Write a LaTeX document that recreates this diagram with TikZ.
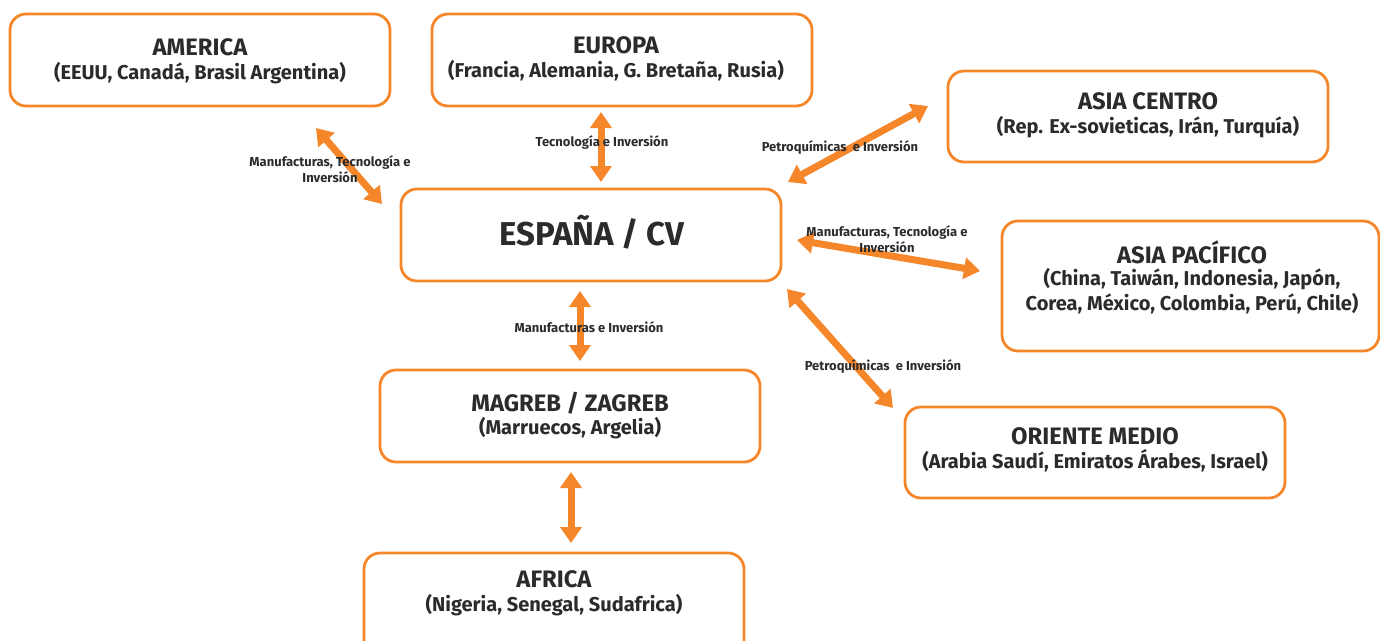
\documentclass[tikz,border=0pt]{standalone}
\usepackage{fontspec}
\setmainfont{Fira Sans}
\usetikzlibrary{arrows.meta}
\definecolor{org}{HTML}{F5862A}
\definecolor{txt}{HTML}{2B2B2B}
\tikzset{
  box/.style={draw=org, line width=2.8pt, rounded corners=16pt, fill=white},
  ttl/.style={text=txt, font=\bfseries\fontsize{23.8}{28}\selectfont, align=center, inner sep=0pt},
  sub/.style={text=txt, font=\bfseries\fontsize{20}{25}\selectfont, align=center, inner sep=0pt},
  lbl/.style={text=txt, font=\bfseries\fontsize{13}{16.5}\selectfont, align=center, inner sep=0pt},
  dbl/.style={draw=org, line width=7pt, {Triangle[length=16pt,width=21pt]}-{Triangle[length=16pt,width=21pt]}, shorten <=0pt, shorten >=0pt}
}
\begin{document}
\begin{tikzpicture}[x=1pt,y=-1pt]
\useasboundingbox (0,0) rectangle (1380,640);
% boxes
\draw[box] (10,14) rectangle (390,106);
\draw[box] (432,14) rectangle (812,106);
\draw[box] (948,71) rectangle (1328,162);
\draw[box] (401,189) rectangle (781,281);
\draw[box] (1002,221) rectangle (1379,351);
\draw[box] (380,370) rectangle (760,462);
\draw[box] (905,407) rectangle (1285,498);
\draw[box] (364,553) rectangle (744,660);
% texts
\node[ttl] (am) at (200,47) {AMERICA};
\node[sub] (ams) at (200,73) {(EEUU, Canadá, Brasil Argentina)};
\node[ttl] (eu) at (616,45) {EUROPA};
\node[sub] (eus) at (616,71) {(Francia, Alemania, G. Bretaña, Rusia)};
\node[ttl] (ac) at (1148,101) {ASIA CENTRO};
\node[sub] (acs) at (1148,127) {(Rep. Ex-sovieticas, Irán, Turquía)};
\node[text=txt, font=\bfseries\fontsize{33}{38}\selectfont, inner sep=0pt] (es) at (592,232) {ESPAÑA / CV};
\node[ttl] (ap) at (1192,252) {ASIA PACÍFICO};
\node[sub] (aps) at (1192,291) {(China, Taiwán, Indonesia, Japón,\\Corea, México, Colombia, Perú, Chile)};
\node[ttl] (mg) at (570,403) {MAGREB / ZAGREB};
\node[sub] (mgs) at (570,428) {(Marruecos, Argelia)};
\node[ttl] (om) at (1095,436) {ORIENTE MEDIO};
\node[sub] (oms) at (1095,461) {(Arabia Saudí, Emiratos Árabes, Israel)};
\node[ttl] (af) at (554,579) {AFRICA};
\node[sub] (afs) at (554,605) {(Nigeria, Senegal, Sudafrica)};
% arrow ends
\coordinate (a1) at (316,128); \coordinate (a2) at (382,204);
\coordinate (b1) at (601,112); \coordinate (b2) at (601,182);
\coordinate (c1) at (788,182); \coordinate (c2) at (928,106);
\coordinate (d1) at (797,240); \coordinate (d2) at (980,271);
\coordinate (e1) at (787,289); \coordinate (e2) at (893,408);
\coordinate (f1) at (580,291); \coordinate (f2) at (580,361);
\coordinate (g1) at (571,472); \coordinate (g2) at (571,543);
\draw[dbl] (a1) -- (a2);
\draw[dbl] (b1) -- (b2);
\draw[dbl] (c1) -- (c2);
\draw[dbl] (d1) -- (d2);
\draw[dbl] (e1) -- (e2);
\draw[dbl] (f1) -- (f2);
\draw[dbl] (g1) -- (g2);
% labels
\node[lbl] (l1) at (330,169) {Manufacturas, Tecnología e\\Inversión};
\node[lbl] (l2) at (602,143) {Tecnología e Inversión};
\node[lbl] (l3) at (840,148) {Petroquímicas\ \ e Inversión};
\node[lbl] (l4) at (887,239) {Manufacturas, Tecnología e\\Inversión};
\node[lbl] (l5) at (883,367) {Petroquímicas\ \ e Inversión};
\node[lbl] (l6) at (589,327) {Manufacturas e Inversión};
\end{tikzpicture}
\end{document}
